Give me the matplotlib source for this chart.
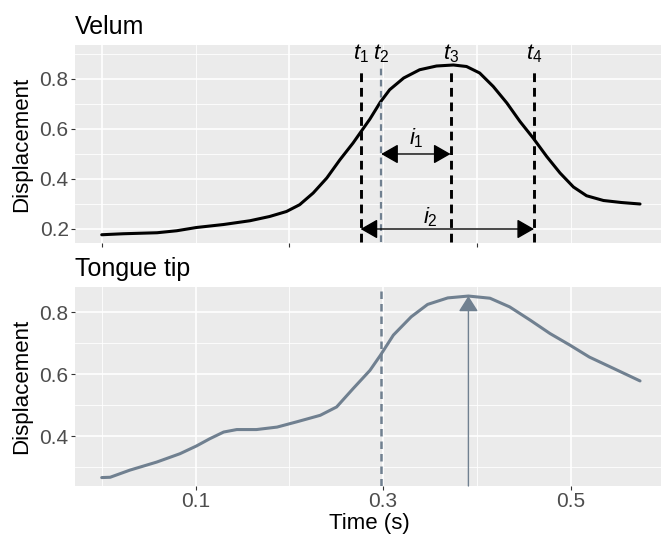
import matplotlib.pyplot as plt
import numpy as np

plt.rcParams['font.family'] = ['Liberation Sans', 'DejaVu Sans']
plt.rcParams['mathtext.fontset'] = 'custom'
plt.rcParams['mathtext.rm'] = 'Liberation Sans'
plt.rcParams['mathtext.it'] = 'Liberation Sans:italic'

# Velum trajectory (time in s, displacement)
velum_t = [0.000, 0.023, 0.059, 0.080, 0.101, 0.130, 0.158, 0.179, 0.197, 0.211,
           0.2255, 0.240, 0.254, 0.268, 0.2755, 0.286, 0.297, 0.307, 0.322, 0.339,
           0.357, 0.375, 0.389, 0.403, 0.4175, 0.432, 0.446, 0.460, 0.4745, 0.4887,
           0.503, 0.517, 0.535, 0.554, 0.574]
velum_y = [0.177, 0.181, 0.185, 0.193, 0.206, 0.218, 0.233, 0.250, 0.270, 0.297,
           0.344, 0.404, 0.477, 0.544, 0.584, 0.640, 0.707, 0.757, 0.804, 0.837,
           0.852, 0.856, 0.850, 0.824, 0.770, 0.704, 0.630, 0.564, 0.490, 0.424,
           0.368, 0.333, 0.314, 0.306, 0.300]

# Tongue tip trajectory
tongue_t = [0.000, 0.009, 0.030, 0.0586, 0.0834, 0.101, 0.115, 0.130, 0.144, 0.165,
            0.187, 0.208, 0.233, 0.2505, 0.268, 0.286, 0.297, 0.311, 0.330, 0.3475,
            0.369, 0.391, 0.414, 0.435, 0.457, 0.478, 0.499, 0.520, 0.546, 0.574]
tongue_y = [0.266, 0.267, 0.290, 0.316, 0.343, 0.368, 0.391, 0.413, 0.421, 0.421,
            0.429, 0.446, 0.467, 0.494, 0.553, 0.612, 0.660, 0.726, 0.785, 0.825,
            0.846, 0.852, 0.845, 0.817, 0.774, 0.731, 0.694, 0.655, 0.618, 0.578]

# landmarks
t_labels = ['$t_1$', '$t_2$', '$t_3$', '$t_4$']
t_times = [0.276, 0.298, 0.372, 0.461]
t_colors = ['black', 'slategray', 'black', 'black']
tt_peak_t = 0.391
tt_peak_y = 0.852

bg = '#EBEBEB'
slate = '#708090'

fig = plt.figure(figsize=(6.61, 5.34), dpi=100)
ax1 = fig.add_axes([75 / 661, 1 - 243 / 534, 588 / 661, 198 / 534])
ax2 = fig.add_axes([75 / 661, 1 - 486 / 534, 588 / 661, 199 / 534])

for ax in (ax1, ax2):
    ax.set_facecolor(bg)
    for s in ax.spines.values():
        s.set_visible(False)
    ax.set_axisbelow(True)
    ax.grid(which='major', color='white', lw=1.2)
    ax.grid(which='minor', color='white', lw=0.6)
    ax.tick_params(which='major', length=3, width=0.8, color='#333333',
                   labelsize=15, labelcolor='#4D4D4D', pad=1.5)
    ax.tick_params(which='minor', length=0)
    ax.set_xlim(-0.0285, 0.5985)

# --- Velum panel ---
ax1.plot(velum_t, velum_y, color='black', lw=2.2, solid_capstyle='round',
         solid_joinstyle='round')
ax1.set_ylim(0.144, 0.936)
ax1.set_xticks([0.0, 0.2, 0.4])
ax1.set_xticklabels([])
ax1.set_xticks([0.1, 0.3, 0.5], minor=True)
ax1.set_yticks([0.2, 0.4, 0.6, 0.8])
ax1.set_yticks([0.3, 0.5, 0.7, 0.9], minor=True)

for lab, t, c in zip(t_labels, t_times, t_colors):
    lw = 2.1 if c == 'black' else 1.6
    ax1.plot([t, t], [0.15, 0.85], color=c if c == 'black' else slate, lw=lw,
             dashes=(3, 2), solid_capstyle='butt')
    ax1.text(t, 0.9, lab, ha='center', va='center', fontsize=16)

ax1.annotate('', xy=(t_times[2], 0.5), xytext=(t_times[1], 0.5),
             arrowprops=dict(arrowstyle='<|-|>,head_length=1.05,head_width=0.6',
                             mutation_scale=10, color='black', lw=1,
                             shrinkA=0, shrinkB=0))
ax1.text((t_times[1] + t_times[2]) / 2, 0.563, '$i_1$', ha='center', va='center', fontsize=16)
ax1.annotate('', xy=(t_times[3], 0.2), xytext=(t_times[0], 0.2),
             arrowprops=dict(arrowstyle='<|-|>,head_length=1.05,head_width=0.6',
                             mutation_scale=10, color='black', lw=1,
                             shrinkA=0, shrinkB=0))
ax1.text(0.351, 0.248, '$i_2$', ha='center', va='center', fontsize=16)

ax1.set_ylabel('Displacement', fontsize=16)
ax1.yaxis.set_label_coords(-0.073, 0.5)
ax1.set_title('Velum', loc='left', fontsize=18, pad=8)

# --- Tongue tip panel ---
ax2.plot(tongue_t, tongue_y, color=slate, lw=2.2, solid_capstyle='round',
         solid_joinstyle='round')
ax2.set_ylim(0.2388, 0.8812)
ax2.set_xticks([0.1, 0.3, 0.5])
ax2.set_xticklabels(['0.1', '0.3', '0.5'])
ax2.set_xticks([0.0, 0.2, 0.4], minor=True)
ax2.set_yticks([0.4, 0.6, 0.8])
ax2.set_yticks([0.3, 0.5, 0.7], minor=True)
ax2.axvline(t_times[1], color=slate, lw=1.8, dashes=(3, 2))
ax2.annotate('', xy=(tt_peak_t, tt_peak_y), xytext=(tt_peak_t, 0.2388),
             arrowprops=dict(arrowstyle='-|>,head_length=0.95,head_width=0.6',
                             mutation_scale=10, color=slate, lw=1,
                             shrinkA=0, shrinkB=0))
ax2.set_ylabel('Displacement', fontsize=16)
ax2.yaxis.set_label_coords(-0.073, 0.5)
ax2.set_xlabel('Time (s)', fontsize=16, labelpad=1)
ax2.set_title('Tongue tip', loc='left', fontsize=18, pad=8)

fig.savefig('out.png', dpi=100)
